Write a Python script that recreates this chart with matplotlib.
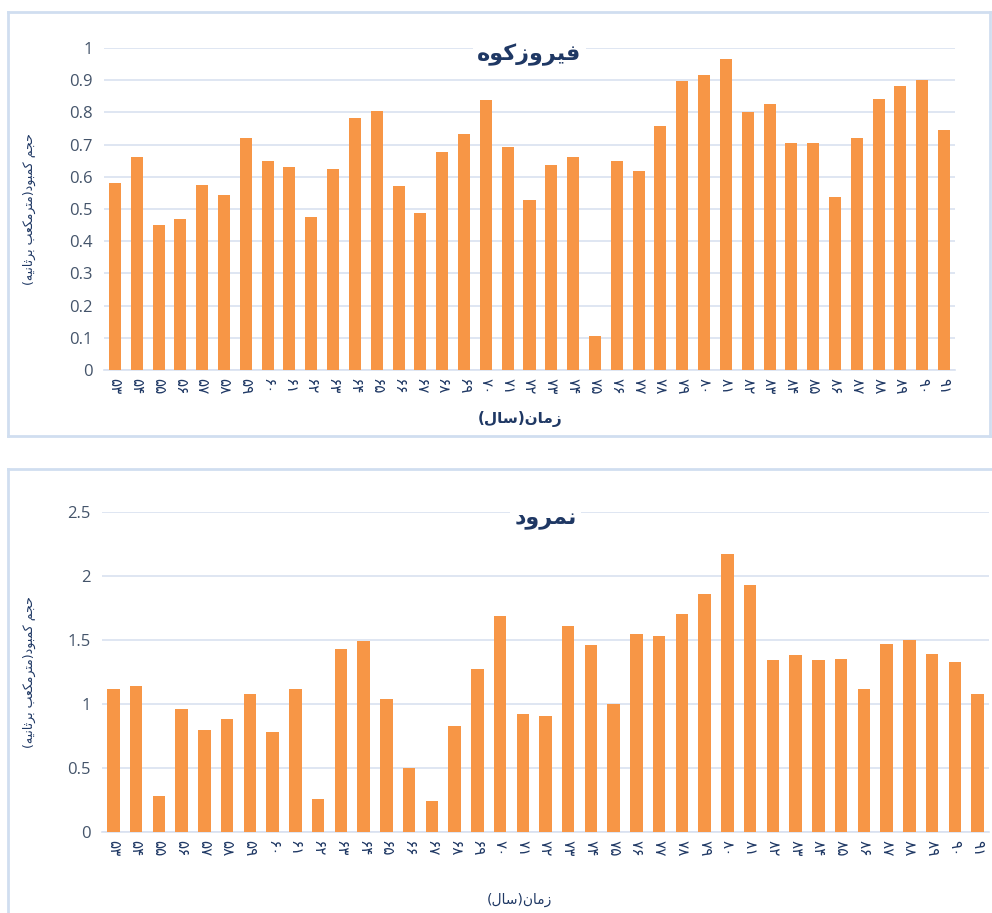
import matplotlib
matplotlib.use("Agg")
import matplotlib.pyplot as plt
import numpy as np

years = list(range(53, 92))
firuzkuh = [0.58, 0.66, 0.45, 0.47, 0.575, 0.545, 0.72, 0.65, 0.63, 0.476,
            0.623, 0.783, 0.803, 0.572, 0.487, 0.676, 0.734, 0.837, 0.692, 0.528,
            0.638, 0.66, 0.105, 0.648, 0.617, 0.758, 0.899, 0.915, 0.967, 0.802,
            0.826, 0.706, 0.706, 0.537, 0.72, 0.841, 0.882, 0.902, 0.744]
namrud = [1.12, 1.14, 0.28, 0.96, 0.80, 0.88, 1.08, 0.78, 1.12, 0.26,
          1.43, 1.49, 1.04, 0.50, 0.24, 0.83, 1.27, 1.69, 0.92, 0.91,
          1.61, 1.46, 1.00, 1.55, 1.53, 1.70, 1.86, 2.17, 1.93, 1.34,
          1.38, 1.34, 1.35, 1.12, 1.47, 1.50, 1.39, 1.33, 1.08]
title_top = "فیروزکوه"
title_bottom = "نمرود"
xlabel_text = "زمان(سال)"
ylabel_text = "حجم کمبود(مترمکعب برثانیه)"

# presentation forms: isolated, final, initial, medial
FORMS = {
    'ا': (0xFE8D, 0xFE8E, None, None),
    'ب': (0xFE8F, 0xFE90, 0xFE91, 0xFE92),
    'ت': (0xFE95, 0xFE96, 0xFE97, 0xFE98),
    'ث': (0xFE99, 0xFE9A, 0xFE9B, 0xFE9C),
    'ج': (0xFE9D, 0xFE9E, 0xFE9F, 0xFEA0),
    'ح': (0xFEA1, 0xFEA2, 0xFEA3, 0xFEA4),
    'د': (0xFEA9, 0xFEAA, None, None),
    'ر': (0xFEAD, 0xFEAE, None, None),
    'ز': (0xFEAF, 0xFEB0, None, None),
    'س': (0xFEB1, 0xFEB2, 0xFEB3, 0xFEB4),
    'ع': (0xFEC9, 0xFECA, 0xFECB, 0xFECC),
    'ف': (0xFED1, 0xFED2, 0xFED3, 0xFED4),
    'ل': (0xFEDD, 0xFEDE, 0xFEDF, 0xFEE0),
    'م': (0xFEE1, 0xFEE2, 0xFEE3, 0xFEE4),
    'ن': (0xFEE5, 0xFEE6, 0xFEE7, 0xFEE8),
    'ه': (0xFEE9, 0xFEEA, 0xFEEB, 0xFEEC),
    'و': (0xFEED, 0xFEEE, None, None),
    'ک': (0xFB8E, 0xFB8F, 0xFB90, 0xFB91),
    'ی': (0xFBFC, 0xFBFD, 0xFBFE, 0xFBFF),
}


def shape(s):
    out = []
    for i, c in enumerate(s):
        if c not in FORMS:
            out.append(c)
            continue
        iso, fin, ini, med = FORMS[c]
        prev = s[i - 1] if i > 0 else None
        nxt = s[i + 1] if i + 1 < len(s) else None
        jp = prev in FORMS and FORMS[prev][2] is not None
        jn = nxt in FORMS and ini is not None
        if jp and jn:
            f = med
        elif jp:
            f = fin
        elif jn:
            f = ini
        else:
            f = iso
        out.append(chr(f))
    vis = ''.join(reversed(out))
    return vis.translate(str.maketrans('()', ')('))


def fa_digits(n):
    return ''.join(chr(0x06F0 + int(d)) for d in str(n))


orange = "#F79646"
navy = "#1F3864"
tickc = "#44546A"
gridc = "#D9E1F0"
W, H = 992, 913

fig = plt.figure(figsize=(9.92, 9.13), dpi=100)

# panel borders
def line(x0, y0, x1, y1):
    fig.add_artist(plt.Line2D([x0 / W, x1 / W], [1 - y0 / H, 1 - y1 / H],
                              color="#D0DEF0", lw=2))

line(8, 12, 990, 12)
line(8, 12, 8, 436)
line(8, 436, 990, 436)
line(990, 12, 990, 436)
line(8, 469, 1000, 469)
line(8, 469, 8, 920)


def make(rect, vals, ymax, step, title, xl_y, xl_size, xl_weight):
    ax = fig.add_axes(rect)
    x = np.arange(len(vals))
    ax.bar(x, vals, width=0.55, color=orange, zorder=3)
    ax.set_xlim(-0.5, len(vals) - 0.5)
    ax.set_ylim(0, ymax)
    ticks = np.arange(0, ymax + 1e-9, step)
    ax.set_yticks(ticks)
    ax.set_yticklabels(["%g" % t for t in ticks], fontsize=12, color=tickc,
                       family="Open Sans")
    ax.set_xticks(x)
    ax.set_xticklabels([fa_digits(y) for y in years], rotation=-90,
                       fontsize=11, color=navy, family="DejaVu Sans")
    ax.grid(axis="y", color=gridc, lw=1.2, zorder=0)
    for s in ["top", "right", "left"]:
        ax.spines[s].set_visible(False)
    ax.spines["bottom"].set_color(gridc)
    ax.spines["bottom"].set_linewidth(1.2)
    ax.tick_params(length=0, pad=8)
    ax.tick_params(axis="x", pad=6)
    t = ax.set_title(shape(title), fontsize=16, fontweight="bold", color=navy,
                     family="DejaVu Sans", pad=-9, y=1.0, zorder=5)
    t.set_bbox(dict(facecolor="white", edgecolor="none", pad=3))
    fig.text(0.03, rect[1] + rect[3] / 2, shape(ylabel_text), rotation=90,
             ha="center", va="center", fontsize=9, color=navy,
             family="DejaVu Sans")
    fig.text(0.524, 1 - xl_y / H, shape(xlabel_text), ha="center",
             va="center", fontsize=xl_size, fontweight=xl_weight, color=navy,
             family="DejaVu Sans")
    return ax


make([104 / W, 1 - 370 / H, 851 / W, 322 / H], firuzkuh, 1.0, 0.1,
     title_top, 419, 11, "bold")
make([102 / W, 1 - 832 / H, 887 / W, 320 / H], namrud, 2.5, 0.5,
     title_bottom, 900, 10, "normal")

fig.savefig("out.png", dpi=100)
